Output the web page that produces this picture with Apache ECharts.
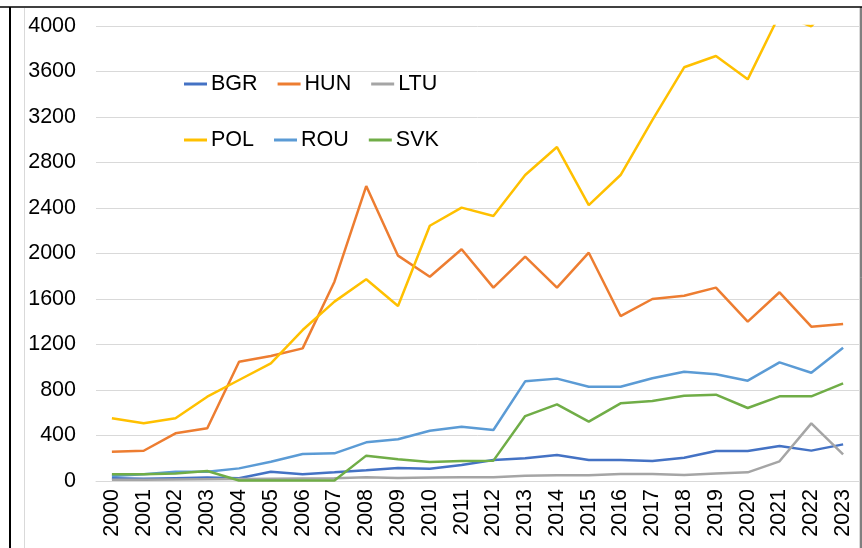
<!DOCTYPE html>
<html>
<head>
<meta charset="utf-8">
<script src="https://cdn.jsdelivr.net/npm/echarts@6/dist/echarts.min.js"></script>
<style>
  html, body { margin: 0; padding: 0; background: #fff; }
  #chart { width: 862px; height: 548px; }
</style>
</head>
<body>
<div id="chart"></div>
<script>
var years = ['2000','2001','2002','2003','2004','2005','2006','2007','2008','2009','2010','2011',
             '2012','2013','2014','2015','2016','2017','2018','2019','2020','2021','2022','2023'];

var bgr = [25, 20, 25, 30, 25, 82, 60, 76, 94, 114, 108, 141, 185, 199, 229, 185, 185, 176, 205, 264, 264, 308, 267, 322];
var hun = [258, 266, 419, 463, 1049, 1099, 1166, 1752, 2593, 1981, 1796, 2037, 1700, 1972, 1700, 2007, 1450, 1600, 1629, 1700, 1401, 1659, 1357, 1380];
var ltu = [10, 12, 14, 16, 18, 20, 22, 24, 32, 26, 30, 32, 32, 47, 50, 50, 62, 62, 53, 67, 76, 173, 507, 234];
var pol = [551, 507, 551, 741, 888, 1035, 1327, 1577, 1773, 1538, 2244, 2403, 2330, 2690, 2936, 2426, 2690, 3173, 3637, 3736, 3531, 4100, 3998, 4300];
var rou = [44, 59, 82, 82, 111, 170, 237, 243, 340, 367, 442, 477, 448, 876, 900, 829, 829, 903, 961, 938, 882, 1043, 952, 1172];
var svk = [59, 59, 67, 88, 5, 5, 5, 5, 223, 191, 167, 176, 179, 571, 674, 522, 683, 703, 750, 759, 642, 744, 744, 858];

var chart = echarts.init(document.getElementById('chart'));

function line(name, data, color) {
  return {
    name: name,
    type: 'line',
    data: data,
    symbol: 'none',
    clip: true,
    lineStyle: { color: color, width: 2.5 },
    itemStyle: { color: color }
  };
}

var legendBase = {
  left: 184,
  padding: 0,
  itemWidth: 23,
  itemHeight: 3,
  itemGap: 20,
  icon: 'rect',
  textStyle: { fontFamily: 'Liberation Sans', fontSize: 21.5, color: '#000', width: 46, padding: [0, 0, 0, -1] }
};

chart.setOption({
  animation: false,
  backgroundColor: '#fff',
  grid: { left: 96, right: 3, top: 26, bottom: 67 },
  legend: [
    Object.assign({}, legendBase, { top: 73, data: ['BGR', 'HUN', 'LTU'] }),
    Object.assign({}, legendBase, { top: 129, data: ['POL', 'ROU', 'SVK'] })
  ],
  xAxis: {
    type: 'category',
    data: years,
    axisLine: { lineStyle: { color: '#d9d9d9', width: 1 } },
    axisTick: { show: false },
    axisLabel: { rotate: 90, margin: 8, fontFamily: 'Liberation Sans', fontSize: 21.5, color: '#000', interval: 0 }
  },
  yAxis: {
    type: 'value',
    min: 0,
    max: 4000,
    interval: 400,
    axisLine: { show: false },
    axisTick: { show: false },
    splitLine: { lineStyle: { color: '#d9d9d9', width: 1 } },
    axisLabel: {
      margin: 20, fontFamily: 'Liberation Sans', fontSize: 21.5, color: '#000',
      formatter: function (v) { return String(v); }
    }
  },
  graphic: [
    { type: 'line', shape: { x1: 0, y1: 7, x2: 862, y2: 7 }, style: { stroke: '#000', lineWidth: 1.5 } },
    { type: 'line', shape: { x1: 10, y1: 7, x2: 10, y2: 548 }, style: { stroke: '#000', lineWidth: 2 } },
    { type: 'line', shape: { x1: 861, y1: 7, x2: 861, y2: 548 }, style: { stroke: '#000', lineWidth: 1 } },
    { type: 'line', shape: { x1: 24.5, y1: 8, x2: 24.5, y2: 548 }, style: { stroke: '#d9d9d9', lineWidth: 1 } },
    { type: 'line', shape: { x1: 859.5, y1: 8, x2: 859.5, y2: 548 }, style: { stroke: '#d9d9d9', lineWidth: 1 } }
  ],
  series: [
    line('BGR', bgr, '#4472C4'),
    line('HUN', hun, '#ED7D31'),
    line('LTU', ltu, '#A5A5A5'),
    line('POL', pol, '#FFC000'),
    line('ROU', rou, '#5B9BD5'),
    line('SVK', svk, '#70AD47')
  ]
});
</script>
</body>
</html>
